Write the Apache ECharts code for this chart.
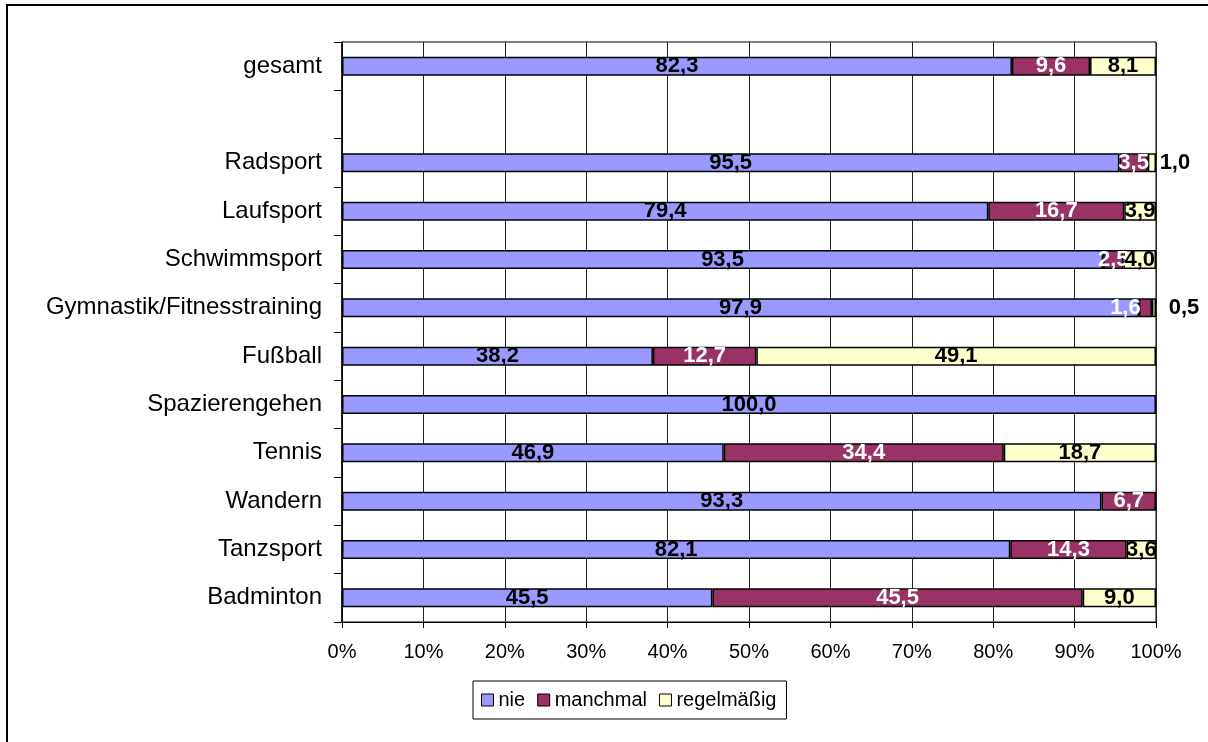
<!DOCTYPE html>
<html>
<head>
<meta charset="utf-8">
<script src="https://cdn.jsdelivr.net/npm/echarts@6/dist/echarts.min.js"></script>
<style>
  html, body { margin: 0; padding: 0; background: #fff; }
  #chart { width: 1208px; height: 742px; }
</style>
</head>
<body>
<div id="chart"></div>
<script>
// Kategorien von oben nach unten (leere Zeile zwischen gesamt und den Sportarten)
const categories = ['gesamt', '', 'Radsport', 'Laufsport', 'Schwimmsport', 'Gymnastik/Fitnesstraining',
  'Fußball', 'Spazierengehen', 'Tennis', 'Wandern', 'Tanzsport', 'Badminton']
const nie = [82.3, null, 95.5, 79.4, 93.5, 97.9, 38.2, 100.0, 46.9, 93.3, 82.1, 45.5]
const manchmal = [9.6, null, 3.5, 16.7, 2.5, 1.6, 12.7, null, 34.4, 6.7, 14.3, 45.5]
const regelmaessig = [8.1, null, 1.0, 3.9, 4.0, 0.5, 49.1, null, 18.7, null, 3.6, 9.0]
const xTicks = ['0%', '10%', '20%', '30%', '40%', '50%', '60%', '70%', '80%', '90%', '100%']

const FONT = 'Arial, "Liberation Sans", sans-serif'

// Beschriftungen, die Excel neben das Segment geschoben hat: [serie, kategorie, dx]
const labelShift = [[2, 2, 23], [2, 5, 30], [1, 5, -20]]

const fmt = (v) => v.toFixed(1).replace('.', ',')

const buildData = (arr, sIdx) => arr.map((v, i) => {
  if (v === null) return '-'
  const shift = labelShift.find(s => s[0] === sIdx && s[1] === i)
  if (shift) return { value: v, label: { offset: [shift[2], 0] } }
  return v
})

const makeSeries = (name, arr, sIdx, color, labelColor) => ({
  name: name,
  type: 'bar',
  stack: 'total',
  barWidth: 19,
  data: buildData(arr, sIdx),
  itemStyle: { color: color, borderColor: '#000', borderWidth: 1.5 },
  label: {
    show: true,
    position: 'inside',
    color: labelColor,
    fontFamily: FONT,
    fontWeight: 'bold',
    fontSize: 22,
    formatter: (p) => fmt(p.value)
  },
  emphasis: { disabled: true }
})

const myChart = echarts.init(document.getElementById('chart'))
const option = {
  animation: false,
  backgroundColor: '#fff',
  graphic: [{
    type: 'rect',
    shape: { x: 7, y: 5, width: 1400, height: 900 },
    style: { fill: 'none', stroke: '#000', lineWidth: 2 },
    silent: true
  }],
  grid: {
    left: 342,
    right: 52,
    top: 42,
    bottom: 120,
    show: true,
    borderColor: '#000',
    borderWidth: 1,
    backgroundColor: '#fff'
  },
  legend: {
    left: 473,
    top: 681,
    orient: 'horizontal',
    padding: [9, 10, 9, 8],
    borderColor: '#000',
    borderWidth: 1,
    itemWidth: 12,
    itemHeight: 12,
    itemGap: 12,
    icon: 'rect',
    itemStyle: { borderColor: '#000', borderWidth: 1 },
    textStyle: { fontFamily: FONT, fontSize: 20, color: '#000', padding: [0, 0, 0, 0] },
    data: ['nie', 'manchmal', 'regelmäßig']
  },
  xAxis: {
    type: 'value',
    min: 0,
    max: 100,
    interval: 10,
    axisLine: { show: true, lineStyle: { color: '#000', width: 1 } },
    axisTick: { show: true, length: 6, lineStyle: { color: '#000' } },
    axisLabel: {
      fontFamily: FONT,
      fontSize: 20,
      color: '#000',
      margin: 20,
      formatter: (v) => xTicks[Math.round(v / 10)]
    },
    splitLine: { show: true, lineStyle: { color: '#222', width: 1 } }
  },
  yAxis: {
    type: 'category',
    inverse: true,
    data: categories,
    axisLine: { show: true, lineStyle: { color: '#000', width: 1.5 } },
    axisTick: { show: true, length: 8, alignWithLabel: false, lineStyle: { color: '#000' } },
    axisLabel: { fontFamily: FONT, fontSize: 24, color: '#000', margin: 20, interval: 0 }
  },
  series: [
    makeSeries('nie', nie, 0, '#9999FF', '#000'),
    makeSeries('manchmal', manchmal, 1, '#993366', '#fff'),
    makeSeries('regelmäßig', regelmaessig, 2, '#FFFFCC', '#000')
  ]
}
myChart.setOption(option)
</script>
</body>
</html>
